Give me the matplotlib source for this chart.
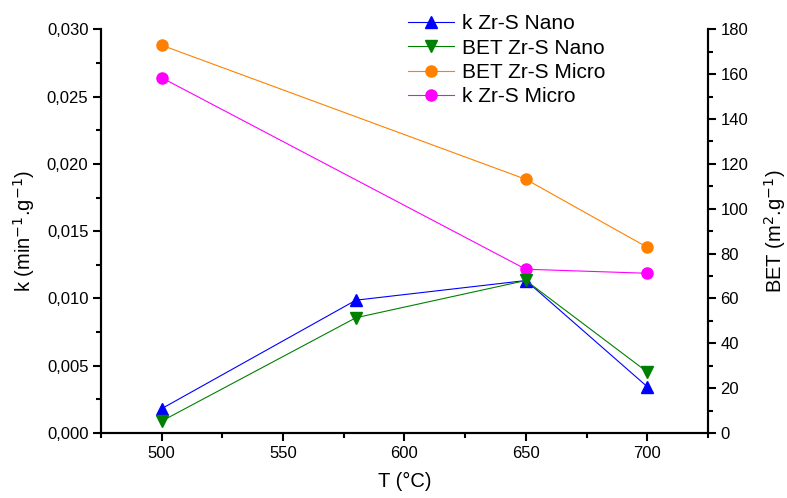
import matplotlib
matplotlib.use("Agg")
import matplotlib.pyplot as plt
from matplotlib.ticker import MultipleLocator, FuncFormatter

plt.rcParams['font.family'] = ['Liberation Sans', 'DejaVu Sans']

T = [500, 580, 650, 700]
T_micro = [500, 650, 700]
k_nano = [0.00181, 0.00987, 0.01133, 0.00344]
bet_nano = [5.3, 51.4, 68.0, 27.2]
bet_micro = [172.9, 113.1, 82.8]
k_micro = [0.0264, 0.01217, 0.01187]

fig = plt.figure(figsize=(7.87, 4.98), dpi=100)
ax = fig.add_axes([0.1283, 0.1305, 0.7713, 0.8107])
ax2 = ax.twinx()

lw = 0.8
ms = 8
l1, = ax.plot(T, k_nano, color='#0000FF', lw=lw, marker='^', ms=ms, label='k Zr-S Nano')
l2, = ax2.plot(T, bet_nano, color='#008000', lw=lw, marker='v', ms=ms, label='BET Zr-S Nano')
l3, = ax2.plot(T_micro, bet_micro, color='#FF8000', lw=lw, marker='o', ms=ms, label='BET Zr-S Micro')
l4, = ax.plot(T_micro, k_micro, color='#FF00FF', lw=lw, marker='o', ms=ms, label='k Zr-S Micro')

ax.set_xlim(475, 725)
ax.set_ylim(0, 0.030)
ax2.set_ylim(0, 180)

for a in (ax, ax2):
    a.spines['top'].set_visible(False)
    for s in a.spines.values():
        s.set_linewidth(1.5)

ax.xaxis.set_major_locator(MultipleLocator(50))
ax.xaxis.set_minor_locator(MultipleLocator(25))
ax.yaxis.set_major_locator(MultipleLocator(0.005))
ax.yaxis.set_minor_locator(MultipleLocator(0.0025))
ax2.yaxis.set_major_locator(MultipleLocator(20))
ax2.yaxis.set_minor_locator(MultipleLocator(10))
ax.yaxis.set_major_formatter(FuncFormatter(lambda v, p: f"{v:.3f}".replace('.', ',')))

ax.tick_params(which='major', direction='out', length=6, width=1.5, labelsize=12, pad=3)
ax.tick_params(which='minor', direction='out', length=3.5, width=1.5)
ax2.tick_params(which='major', direction='out', length=6, width=1.5, labelsize=12, pad=3)
ax2.tick_params(which='minor', direction='out', length=3.5, width=1.5)

ax.set_xlabel('T (°C)', fontsize=14.5, labelpad=8)
ax.set_ylabel('k (min$^{-1}$.g$^{-1}$)', fontsize=14.5, labelpad=7)
ax2.set_ylabel('BET (m$^{2}$.g$^{-1}$)', fontsize=14.5, labelpad=10)

leg = ax.legend(handles=[l1, l2, l3, l4], loc='upper left', bbox_to_anchor=(0.492, 1.058),
                frameon=False, fontsize=15, handlelength=2.2, handletextpad=0.4,
                labelspacing=0.26, borderaxespad=0)

fig.savefig('out.png', dpi=100)
